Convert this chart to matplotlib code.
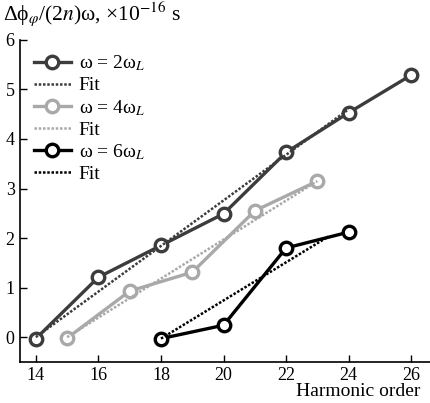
import matplotlib.pyplot as plt
from matplotlib.ticker import MultipleLocator

plt.rcParams['font.family'] = ['Liberation Serif', 'DejaVu Serif']
plt.rcParams['mathtext.fontset'] = 'stix'

# harmonic orders and phase delays
h_2w = [14, 16, 18, 20, 22, 24, 26]
d_2w = [-0.03, 1.21, 1.85, 2.49, 3.73, 4.53, 5.29]
h_4w = [15, 17, 19, 21, 23]
d_4w = [-0.02, 0.93, 1.31, 2.55, 3.15]
h_6w = [18, 20, 22, 24]
d_6w = [-0.03, 0.24, 1.80, 2.12]

# linear fits (end points)
fit_2w_x = [14, 24]
fit_2w_y = [0.0, 4.6]
fit_4w_x = [15, 23]
fit_4w_y = [0.0, 3.15]
fit_6w_x = [18, 23.35]
fit_6w_y = [-0.03, 2.03]

c2, c4, c6 = '#3c3c3c', '#a9a9a9', '#000000'

fig = plt.figure(figsize=(4.3, 4.03), dpi=100)
ax = fig.add_axes([0.047, 0.102, 0.953, 0.799])

mk = dict(marker='o', markersize=9, markerfacecolor='white', markeredgewidth=2.4, linewidth=2.4)
ax.plot(h_2w, d_2w, color=c2, markeredgecolor=c2, label='ω = 2ω$_L$', **mk)
ax.plot(fit_2w_x, fit_2w_y, color=c2, ls=(0, (1, 0.7)), lw=1.8, label='Fit')
ax.plot(h_4w, d_4w, color=c4, markeredgecolor=c4, label='ω = 4ω$_L$', **mk)
ax.plot(fit_4w_x, fit_4w_y, color=c4, ls=(0, (1, 0.7)), lw=1.8, label='Fit')
ax.plot(h_6w, d_6w, color=c6, markeredgecolor=c6, label='ω = 6ω$_L$', **mk)
ax.plot(fit_6w_x, fit_6w_y, color=c6, ls=(0, (1, 0.7)), lw=1.8, label='Fit')

ax.set_xlim(13.5, 26.6)
ax.set_ylim(-0.5, 6)
ax.xaxis.set_major_locator(MultipleLocator(2))
ax.yaxis.set_major_locator(MultipleLocator(1))
ax.spines['top'].set_visible(False)
ax.spines['right'].set_visible(False)
ax.spines['left'].set_linewidth(1.2)
ax.spines['bottom'].set_linewidth(1.2)
ax.tick_params(direction='in', length=5, width=1, labelsize=13, pad=4)

leg = ax.legend(loc='upper left', bbox_to_anchor=(0.0, 1.0), frameon=False, fontsize=14,
                handlelength=1.9, handletextpad=0.4, labelspacing=0.18, borderaxespad=0.3)

fig.text(0.008, 0.965, 'Δϕ$_\\varphi$/(2$n$)ω, ×10$^{-16}$ s', fontsize=15.5, va='center')
fig.text(0.977, 0.028, 'Harmonic order', fontsize=14, ha='right', va='center')

fig.savefig('out.png', dpi=100)
